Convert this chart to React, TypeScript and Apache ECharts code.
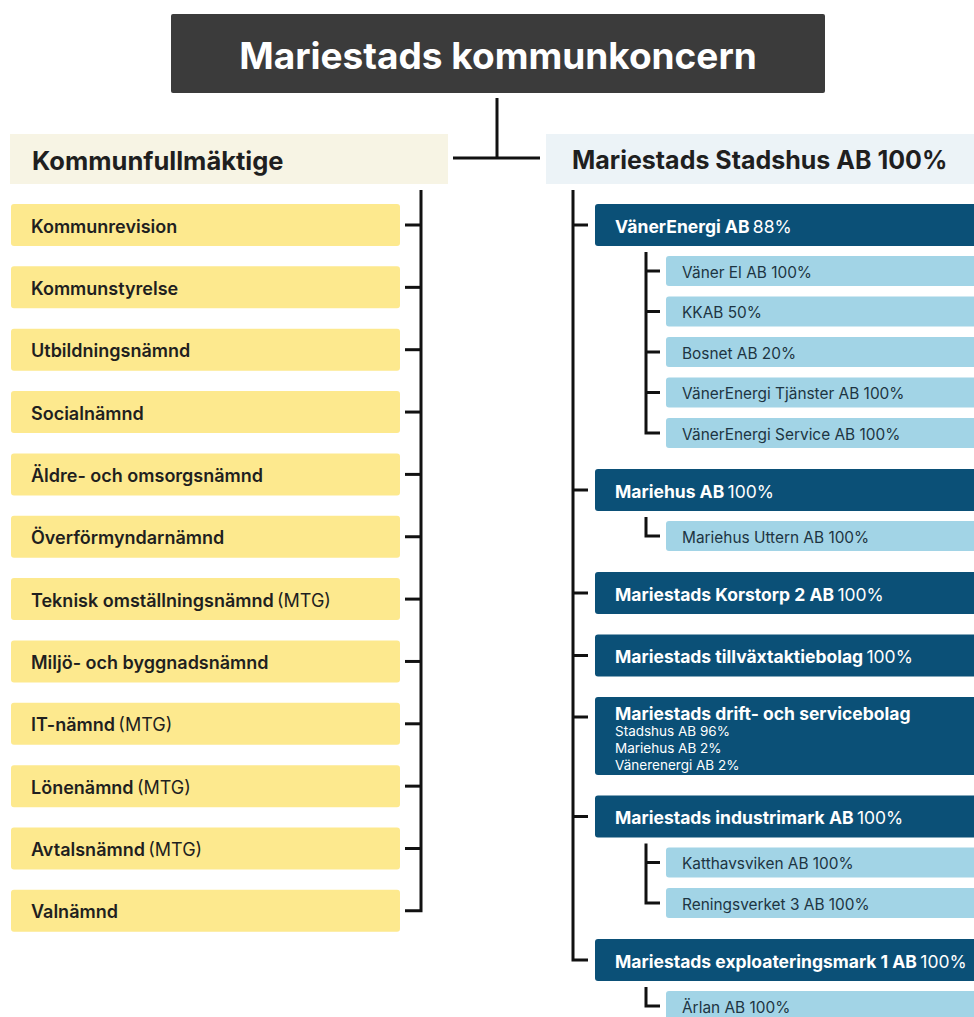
import React, { useEffect, useRef } from "react";
import * as echarts from "echarts";

const chartTitle = "Mariestads kommunkoncern";
const councilHeader = "Kommunfullmäktige";
const companyHeader = "Mariestads Stadshus AB 100%";

const councilNames = [
  "Kommunrevision",
  "Kommunstyrelse",
  "Utbildningsnämnd",
  "Socialnämnd",
  "Äldre- och omsorgsnämnd",
  "Överförmyndarnämnd",
  "Teknisk omställningsnämnd",
  "Miljö- och byggnadsnämnd",
  "IT-nämnd",
  "Lönenämnd",
  "Avtalsnämnd",
  "Valnämnd",
];
const councilNotes = ["", "", "", "", "", "", "(MTG)", "", "(MTG)", "(MTG)", "(MTG)", ""];

const companyNames = [
  "VänerEnergi AB",
  "Mariehus AB",
  "Mariestads Korstorp 2 AB",
  "Mariestads tillväxtaktiebolag",
  "Mariestads drift- och servicebolag",
  "Mariestads industrimark AB",
  "Mariestads exploateringsmark 1 AB",
];
const companyShares = ["88%", "100%", "100%", "100%", "", "100%", "100%"];
const companyOwners = [
  [],
  [],
  [],
  [],
  ["Stadshus AB 96%", "Mariehus AB 2%", "Vänerenergi AB 2%"],
  [],
  [],
];
const subsidiaries = [
  ["Väner El AB 100%", "KKAB 50%", "Bosnet AB 20%", "VänerEnergi Tjänster AB 100%", "VänerEnergi Service AB 100%"],
  ["Mariehus Uttern AB 100%"],
  [],
  [],
  [],
  ["Katthavsviken AB 100%", "Reningsverket 3 AB 100%"],
  ["Ärlan AB 100%"],
];

const FONT = "Inter, 'Open Sans', sans-serif";
const C = {
  titleBg: "#3b3b3b",
  creamBg: "#f7f4e4",
  paleBlueBg: "#ecf3f7",
  yellow: "#fde98e",
  navy: "#0b5077",
  lightBlue: "#a2d4e6",
  line: "#111111",
  text: "#1f1f1f",
  subText: "#1d3442",
};

function rect(x: number, y: number, w: number, h: number, fill: string, r = 3) {
  return { type: "rect", shape: { x, y, width: w, height: h, r }, style: { fill }, silent: true };
}
function poly(points: number[][]) {
  return {
    type: "polyline",
    shape: { points },
    style: { stroke: C.line, lineWidth: 3, fill: "none", lineJoin: "miter" },
    silent: true,
  };
}
function rich(x: number, y: number, text: string, richStyles: any, align = "left") {
  return {
    type: "text",
    x,
    y,
    silent: true,
    style: { text, rich: richStyles, align, verticalAlign: "middle" },
  };
}

function buildGraphics() {
  const g: any[] = [];
  // Title
  g.push(rect(171, 14, 654, 79, C.titleBg, 2));
  g.push(
    rich(498, 55, `{t|${chartTitle}}`, {
      t: { fontFamily: FONT, fontWeight: 700, fontSize: 37, fill: "#ffffff" },
    }, "center")
  );
  // connector from title
  g.push(poly([[497, 98], [497, 158]]));
  g.push(poly([[453, 158], [540, 158]]));

  // Headers
  g.push(rect(10, 134, 438, 50, C.creamBg, 0));
  g.push(rich(32, 160, `{h|${councilHeader}}`, { h: { fontFamily: FONT, fontWeight: 700, fontSize: 25.5, fill: C.text } }));
  g.push(rect(546, 134, 430, 50, C.paleBlueBg, 0));
  g.push(rich(572, 160, `{h|${companyHeader}}`, { h: { fontFamily: FONT, fontWeight: 700, fontSize: 25, fill: C.text } }));

  // Left column (councils)
  const leftStyles = {
    b: { fontFamily: FONT, fontWeight: 600, fontSize: 18, fill: C.text },
    n: { fontFamily: FONT, fontWeight: 400, fontSize: 18, fill: C.text },
  };
  const step = 62.35;
  let lastCenter = 0;
  councilNames.forEach((name, i) => {
    const top = 204 + i * step;
    const cy = top + 21;
    lastCenter = cy;
    g.push(rect(11, top, 389, 42, C.yellow, 3));
    const note = councilNotes[i] ? ` {n|${councilNotes[i]}}` : "";
    g.push(rich(31, cy + 1, `{b|${name}}${note}`, leftStyles));
    if (i < councilNames.length - 1) g.push(poly([[405, cy], [421, cy]]));
  });
  g.push(poly([[421, 190], [421, lastCenter], [405, lastCenter]]));

  // Right column (companies)
  const darkStyles = {
    b: { fontFamily: FONT, fontWeight: 700, fontSize: 17.5, fill: "#ffffff" },
    n: { fontFamily: FONT, fontWeight: 400, fontSize: 17.5, fill: "#ffffff" },
    o: { fontFamily: FONT, fontWeight: 400, fontSize: 13.5, fill: "#ffffff", lineHeight: 17 },
  };
  const subStyles = { s: { fontFamily: FONT, fontWeight: 400, fontSize: 15.4, fill: C.subText } };
  let y = 204;
  let mainLast = 0;
  companyNames.forEach((name, i) => {
    const owners = companyOwners[i];
    const h = owners.length ? 78 : 42;
    g.push(rect(595, y, 390, h, C.navy, 3));
    const share = companyShares[i] ? ` {n|${companyShares[i]}}` : "";
    let tickY: number;
    if (owners.length) {
      tickY = y + 20;
      g.push(rich(615, y + 16, `{b|${name}}${share}`, darkStyles));
      owners.forEach((o, k) => {
        g.push(rich(615, y + 34 + k * 17, `{o|${o}}`, darkStyles));
      });
    } else {
      tickY = y + h / 2;
      g.push(rich(615, y + h / 2 + 1, `{b|${name}}${share}`, darkStyles));
    }
    mainLast = tickY;
    if (i < companyNames.length - 1) g.push(poly([[573, tickY], [588, tickY]]));
    const bottom = y + h;
    y = bottom + 10;
    const subs = subsidiaries[i];
    if (subs.length) {
      let subLast = 0;
      subs.forEach((s, k) => {
        const cy = y + 15;
        subLast = cy;
        g.push(rect(666, y, 320, 30, C.lightBlue, 3));
        g.push(rich(682, cy + 1, `{s|${s}}`, subStyles));
        if (k < subs.length - 1) g.push(poly([[646, cy], [660, cy]]));
        y += 40.5;
      });
      g.push(poly([[646, bottom + 6], [646, subLast], [660, subLast]]));
    }
    y += 10.5;
  });
  g.push(poly([[573, 190], [573, mainLast], [588, mainLast]]));
  return g;
}

export default function App() {
  const ref = useRef<HTMLDivElement>(null);
  useEffect(() => {
    document.body.style.margin = "0";
    const chart = echarts.init(ref.current!, null, { renderer: "svg" });
    chart.setOption({
      animation: false,
      backgroundColor: "#ffffff",
      graphic: { elements: buildGraphics() },
    });
    return () => chart.dispose();
  }, []);
  return <div ref={ref} style={{ width: 974, height: 1017, overflow: "hidden" }} />;
}
